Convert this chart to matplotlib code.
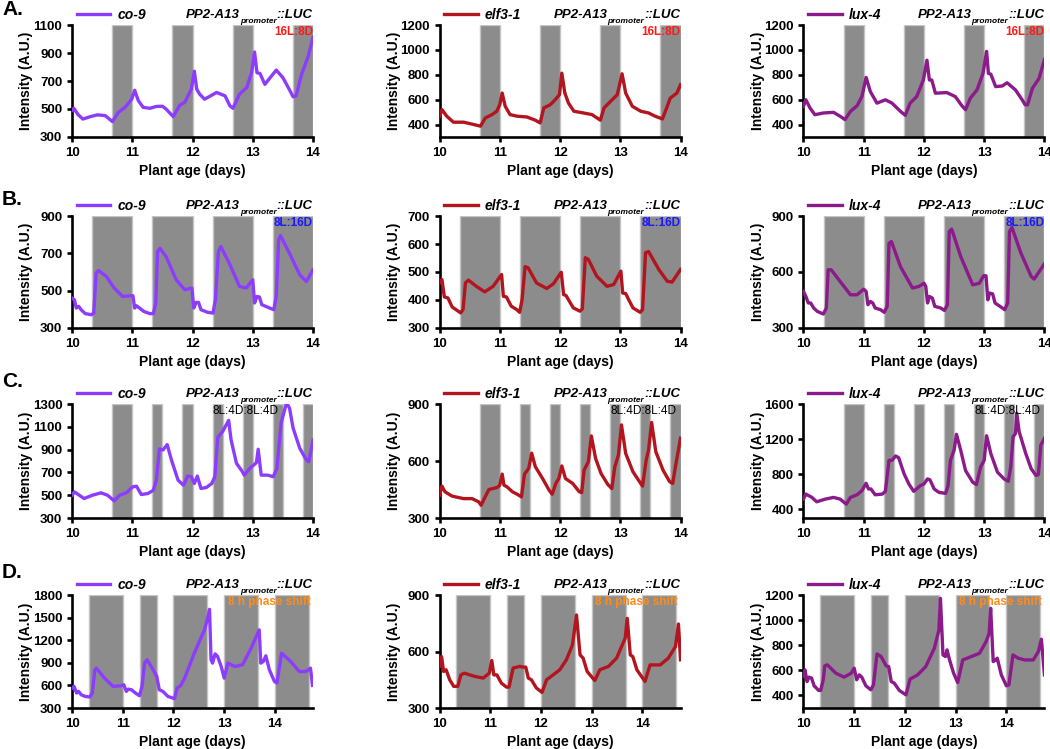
import matplotlib
matplotlib.use("Agg")
import matplotlib.pyplot as plt

plt.rcParams["font.family"] = ["Liberation Sans", "DejaVu Sans"]
plt.rcParams["font.weight"] = "bold"
plt.rcParams["axes.labelweight"] = "bold"

CO9_COLOR = "#8c3cff"
ELF3_COLOR = "#b3151e"
LUX4_COLOR = "#8b1a8b"

# ---- dark periods (days) ----
A_dark = [(10.667, 11), (11.667, 12), (12.667, 13), (13.667, 14)]
B_dark = [(10.333, 11), (11.333, 12), (12.333, 13), (13.333, 14)]
C_dark = [(10.667, 11), (11.333, 11.5), (11.833, 12), (12.333, 12.5),
          (12.833, 13), (13.333, 13.5), (13.833, 14)]
D_dark = [(10.333, 11), (11.333, 11.667), (12.0, 12.667), (13.0, 13.667), (14.0, 14.667)]

# ---- A: 16L:8D ----
A_co9_t = [10.0, 10.03, 10.1, 10.18, 10.3, 10.42, 10.55, 10.67, 10.77, 10.88, 10.99, 11.04,
           11.1, 11.18, 11.29, 11.4, 11.5, 11.56, 11.68, 11.79, 11.87, 11.98, 12.03, 12.07,
           12.12, 12.2, 12.4, 12.54, 12.62, 12.67, 12.78, 12.9, 12.98, 13.03, 13.07, 13.12,
           13.2, 13.39, 13.5, 13.59, 13.67, 13.72, 13.81, 13.92, 14.0]
A_co9_y = [490, 505, 460, 428, 445, 458, 453, 410, 476, 512, 570, 634,
           560, 512, 505, 518, 520, 500, 446, 528, 547, 641, 770, 641,
           605, 570, 618, 594, 523, 505, 606, 653, 759, 907, 759, 754,
           676, 778, 724, 653, 587, 594, 747, 876, 1013]

A_elf3_t = [10.0, 10.04, 10.12, 10.23, 10.4, 10.57, 10.68, 10.76, 10.87, 10.95, 11.0, 11.04,
            11.09, 11.17, 11.29, 11.45, 11.59, 11.67, 11.73, 11.84, 11.92, 11.99, 12.03, 12.08,
            12.14, 12.23, 12.39, 12.53, 12.67, 12.73, 12.84, 12.95, 13.03, 13.09, 13.2, 13.34,
            13.47, 13.58, 13.7, 13.78, 13.83, 13.94, 14.0]
A_elf3_y = [467, 520, 467, 419, 419, 400, 387, 453, 480, 507, 560, 653,
            547, 480, 467, 461, 435, 413, 533, 560, 600, 640, 813, 653,
            573, 507, 493, 480, 435, 533, 587, 640, 808, 653, 547, 507,
            493, 467, 445, 547, 613, 653, 720]

A_lux4_t = [10.0, 10.04, 10.11, 10.19, 10.33, 10.5, 10.61, 10.69, 10.78, 10.89, 10.97, 11.04,
            11.11, 11.22, 11.36, 11.47, 11.61, 11.69, 11.77, 11.88, 11.99, 12.05, 12.09, 12.13,
            12.19, 12.38, 12.52, 12.63, 12.69, 12.77, 12.88, 12.98, 13.04, 13.07, 13.11, 13.19,
            13.3, 13.38, 13.52, 13.63, 13.68, 13.72, 13.8, 13.91, 14.0]
A_lux4_y = [546, 599, 532, 479, 493, 498, 466, 440, 506, 551, 625, 779,
            665, 572, 599, 572, 506, 474, 572, 625, 758, 917, 758, 758,
            652, 657, 625, 551, 519, 612, 678, 811, 988, 811, 805, 705,
            710, 736, 678, 599, 559, 559, 691, 771, 922]

# ---- B: 8L:16D ----
B_co9_t = [10.0, 10.04, 10.07, 10.11, 10.15, 10.22, 10.32, 10.36, 10.4, 10.44, 10.57, 10.7,
           10.84, 11.01, 11.04, 11.07, 11.12, 11.19, 11.29, 11.35, 11.39, 11.42, 11.46, 11.56,
           11.73, 11.87, 11.99, 12.02, 12.06, 12.1, 12.14, 12.25, 12.34, 12.38, 12.43, 12.47,
           12.61, 12.78, 12.89, 13.0, 13.03, 13.07, 13.11, 13.15, 13.28, 13.35, 13.39, 13.43,
           13.46, 13.61, 13.78, 13.89, 14.0]
B_co9_y = [460, 451, 407, 416, 398, 377, 371, 380, 594, 608, 576, 514,
           469, 473, 407, 419, 407, 389, 377, 377, 434, 709, 727, 683,
           558, 505, 514, 407, 437, 437, 398, 384, 380, 451, 709, 736,
           647, 523, 514, 558, 434, 469, 466, 425, 407, 398, 469, 772,
           795, 700, 585, 549, 612]

B_elf3_t = [10.0, 10.04, 10.08, 10.14, 10.21, 10.31, 10.35, 10.39, 10.43, 10.48, 10.61, 10.75,
            10.89, 11.03, 11.06, 11.11, 11.19, 11.28, 11.33, 11.37, 11.42, 11.47, 11.61, 11.78,
            11.89, 12.02, 12.06, 12.1, 12.14, 12.22, 12.33, 12.37, 12.42, 12.47, 12.61, 12.78,
            12.89, 13.01, 13.04, 13.09, 13.14, 13.21, 13.33, 13.37, 13.42, 13.47, 13.64, 13.78,
            13.86, 14.0]
B_elf3_y = [461, 473, 411, 407, 375, 360, 354, 366, 461, 471, 449, 429,
            449, 491, 413, 411, 378, 366, 356, 401, 519, 515, 461, 441,
            458, 499, 419, 416, 401, 372, 360, 368, 551, 545, 485, 449,
            455, 503, 425, 423, 401, 372, 356, 366, 569, 573, 509, 467,
            464, 509]

B_lux4_t = [10.0, 10.04, 10.08, 10.12, 10.17, 10.23, 10.33, 10.38, 10.41, 10.46, 10.61, 10.78,
            10.89, 11.0, 11.04, 11.07, 11.11, 11.15, 11.19, 11.28, 11.34, 11.39, 11.42, 11.46,
            11.61, 11.81, 11.92, 12.0, 12.03, 12.06, 12.09, 12.14, 12.18, 12.28, 12.34, 12.39,
            12.42, 12.46, 12.61, 12.81, 12.92, 12.99, 13.03, 13.06, 13.09, 13.14, 13.18, 13.28,
            13.34, 13.39, 13.42, 13.46, 13.61, 13.78, 13.83, 14.0]
B_lux4_y = [496, 469, 434, 434, 407, 389, 375, 407, 612, 612, 549, 478,
            478, 508, 496, 425, 442, 434, 407, 398, 384, 416, 754, 763,
            629, 514, 523, 540, 523, 434, 469, 460, 416, 407, 394, 425,
            816, 830, 683, 531, 540, 580, 580, 451, 487, 483, 434, 412,
            398, 434, 816, 839, 701, 576, 562, 644]

# ---- C: 8L:4D:8L:4D ----
C_co9_t = [10.0, 10.04, 10.12, 10.2, 10.34, 10.48, 10.59, 10.7, 10.79, 10.9, 11.01, 11.07,
           11.15, 11.26, 11.35, 11.4, 11.45, 11.51, 11.58, 11.65, 11.76, 11.85, 11.92, 11.98,
           12.03, 12.08, 12.14, 12.23, 12.32, 12.37, 12.42, 12.5, 12.6, 12.64, 12.73, 12.81,
           12.86, 12.95, 13.06, 13.09, 13.14, 13.25, 13.34, 13.4, 13.47, 13.53, 13.56, 13.61,
           13.67, 13.78, 13.89, 13.93, 14.0]
C_co9_y = [500, 529, 500, 471, 500, 521, 500, 450, 500, 521, 574, 579,
           506, 515, 544, 632, 906, 897, 944, 809, 632, 588, 668, 662,
           603, 668, 559, 568, 603, 662, 1009, 1059, 1156, 985, 779, 721,
           676, 735, 785, 903, 676, 676, 662, 735, 1132, 1250, 1309, 1265,
           1088, 912, 809, 794, 985]

C_elf3_t = [10.0, 10.04, 10.09, 10.21, 10.4, 10.54, 10.65, 10.69, 10.73, 10.82, 10.96, 11.0,
            11.04, 11.07, 11.12, 11.21, 11.29, 11.36, 11.41, 11.48, 11.53, 11.59, 11.71, 11.82,
            11.87, 11.93, 11.98, 12.03, 12.09, 12.21, 12.32, 12.36, 12.4, 12.47, 12.52, 12.59,
            12.68, 12.79, 12.86, 12.91, 12.97, 13.02, 13.09, 13.21, 13.32, 13.37, 13.43, 13.47,
            13.52, 13.59, 13.71, 13.82, 13.87, 13.93, 14.0]
C_elf3_y = [420, 468, 438, 415, 402, 402, 385, 367, 394, 450, 461, 473,
            531, 473, 464, 438, 425, 411, 531, 561, 641, 570, 508, 446,
            425, 482, 508, 574, 508, 482, 438, 434, 552, 596, 732, 614,
            535, 478, 455, 570, 632, 790, 640, 544, 491, 468, 605, 658,
            803, 649, 552, 491, 482, 596, 720]

C_lux4_t = [10.0, 10.04, 10.14, 10.22, 10.36, 10.5, 10.61, 10.71, 10.78, 10.89, 10.97, 11.04,
            11.08, 11.12, 11.19, 11.31, 11.36, 11.42, 11.47, 11.53, 11.58, 11.67, 11.75, 11.83,
            11.94, 12.0, 12.06, 12.1, 12.17, 12.25, 12.36, 12.4, 12.44, 12.5, 12.54, 12.61,
            12.69, 12.81, 12.87, 12.94, 13.0, 13.04, 13.11, 13.22, 13.33, 13.4, 13.44, 13.48,
            13.52, 13.54, 13.58, 13.69, 13.78, 13.86, 13.9, 13.94, 14.0]
C_lux4_y = [515, 573, 535, 485, 515, 535, 515, 458, 535, 565, 612, 696,
            631, 631, 565, 573, 604, 958, 958, 1008, 988, 804, 688, 604,
            669, 688, 746, 735, 631, 592, 581, 669, 958, 1073, 1254, 1073,
            842, 708, 681, 881, 958, 1238, 1035, 823, 746, 719, 881, 1227,
            1265, 1496, 1285, 1035, 862, 785, 796, 1131, 1208]

# ---- D: 8 h phase shift ----
D_co9_t = [10.0, 10.04, 10.09, 10.13, 10.18, 10.26, 10.35, 10.4, 10.45, 10.48, 10.64, 10.81,
           10.97, 11.02, 11.07, 11.11, 11.17, 11.25, 11.33, 11.38, 11.43, 11.48, 11.6, 11.67,
           11.72, 11.79, 11.89, 12.02, 12.07, 12.14, 12.22, 12.41, 12.61, 12.69, 12.71, 12.74,
           12.77, 12.82, 12.87, 12.94, 13.0, 13.07, 13.21, 13.36, 13.53, 13.69, 13.72, 13.77,
           13.82, 13.89, 13.99, 14.04, 14.13, 14.31, 14.48, 14.61, 14.7, 14.74]
D_co9_y = [565, 587, 499, 521, 476, 454, 446, 499, 807, 829, 697, 587,
           596, 609, 521, 551, 543, 499, 463, 587, 896, 940, 807, 719,
           543, 521, 454, 424, 565, 596, 697, 1028, 1337, 1535, 1610, 940,
           896, 1019, 984, 851, 697, 896, 851, 873, 1094, 1337, 896, 918,
           993, 807, 653, 631, 1028, 918, 785, 785, 829, 600]

D_elf3_t = [10.0, 10.04, 10.08, 10.13, 10.2, 10.28, 10.36, 10.42, 10.49, 10.69, 10.86, 10.98,
            11.03, 11.07, 11.13, 11.22, 11.32, 11.37, 11.45, 11.58, 11.65, 11.7, 11.75, 11.81,
            11.91, 12.02, 12.11, 12.24, 12.37, 12.5, 12.62, 12.7, 12.77, 12.83, 12.91, 13.06,
            13.16, 13.33, 13.49, 13.66, 13.7, 13.76, 13.81, 13.89, 14.05, 14.15, 14.35, 14.51,
            14.65, 14.71, 14.75]
D_elf3_y = [521, 573, 494, 503, 450, 415, 415, 476, 485, 468, 459, 485,
            552, 476, 476, 432, 411, 411, 512, 521, 517, 517, 459, 450,
            406, 383, 450, 476, 503, 556, 635, 794, 582, 565, 494, 446,
            503, 521, 565, 671, 776, 582, 573, 503, 441, 529, 529, 565,
            626, 746, 556]

D_lux4_t = [10.0, 10.03, 10.07, 10.11, 10.16, 10.21, 10.3, 10.34, 10.39, 10.42, 10.47, 10.64,
            10.8, 10.94, 11.0, 11.05, 11.1, 11.15, 11.23, 11.33, 11.38, 11.45, 11.53, 11.63,
            11.68, 11.73, 11.79, 11.89, 12.02, 12.1, 12.25, 12.41, 12.58, 12.67, 12.7, 12.75,
            12.8, 12.83, 12.88, 12.96, 13.04, 13.14, 13.31, 13.47, 13.6, 13.66, 13.69, 13.74,
            13.79, 13.82, 13.9, 14.0, 14.05, 14.13, 14.23, 14.36, 14.53, 14.63, 14.69, 14.75]
D_lux4_y = [551, 604, 511, 546, 538, 477, 440, 440, 525, 636, 644, 577,
            546, 577, 617, 525, 564, 546, 477, 445, 485, 731, 710, 636,
            630, 511, 498, 440, 405, 530, 564, 630, 776, 922, 1173, 723,
            710, 763, 683, 577, 503, 683, 710, 736, 829, 895, 1094, 670,
            683, 697, 564, 477, 485, 723, 697, 683, 683, 750, 848, 564]

GENOTYPES = [("co-9", CO9_COLOR), ("elf3-1", ELF3_COLOR), ("lux-4", LUX4_COLOR)]

rows = [
    dict(letter="A.", dark=A_dark, xmax=14, cond="16L:8D", cond_color="#ff1a1a", cond_weight="bold",
         series=[(A_co9_t, A_co9_y), (A_elf3_t, A_elf3_y), (A_lux4_t, A_lux4_y)],
         ylims=[(300, 1100), (300, 1200), (300, 1200)],
         yticks=[range(300, 1101, 200), range(400, 1201, 200), range(400, 1201, 200)]),
    dict(letter="B.", dark=B_dark, xmax=14, cond="8L:16D", cond_color="#1a1aff", cond_weight="bold",
         series=[(B_co9_t, B_co9_y), (B_elf3_t, B_elf3_y), (B_lux4_t, B_lux4_y)],
         ylims=[(300, 900), (300, 700), (300, 900)],
         yticks=[range(300, 901, 200), range(300, 701, 100), range(300, 901, 300)]),
    dict(letter="C.", dark=C_dark, xmax=14, cond="8L:4D:8L:4D", cond_color="black", cond_weight="normal",
         series=[(C_co9_t, C_co9_y), (C_elf3_t, C_elf3_y), (C_lux4_t, C_lux4_y)],
         ylims=[(300, 1300), (300, 900), (300, 1600)],
         yticks=[range(300, 1301, 200), range(300, 901, 300), range(400, 1601, 400)]),
    dict(letter="D.", dark=D_dark, xmax=14.75, cond="8 h phase shift", cond_color="#ff8c1a", cond_weight="bold",
         series=[(D_co9_t, D_co9_y), (D_elf3_t, D_elf3_y), (D_lux4_t, D_lux4_y)],
         ylims=[(300, 1800), (300, 900), (300, 1200)],
         yticks=[range(300, 1801, 300), range(300, 901, 300), range(400, 1201, 200)]),
]

# layout in figure fractions (figure 1050 x 749 px)
col_left = [0.0686, 0.4186, 0.7652]
ax_w = 0.2295
row_box = [(0.8171, 0.1495), (0.5621, 0.1495), (0.3084, 0.1522), (0.0547, 0.1509)]
letter_y = [0.987, 0.734, 0.490, 0.235]
cond_x_C = [0.72, 0.845, 0.845]


def gene_title(ax):
    kw = dict(fontweight="bold", style="italic", color="black")
    t3 = ax.text(1.0, 1.06, "::LUC", transform=ax.transAxes, ha="right", va="baseline",
                 fontsize=9.5, **kw)
    t2 = ax.annotate("promoter", xy=(0, 0.0), xycoords=t3, ha="right", va="center",
                     fontsize=6, **kw)
    ax.annotate("PP2-A13", xy=(0, 0), xycoords=(t2, t3), ha="right", va="bottom",
                fontsize=9.5, **kw)


fig = plt.figure(figsize=(10.5, 7.49), dpi=100)

for r, row in enumerate(rows):
    bottom, height = row_box[r]
    fig.text(0.002, letter_y[r], row["letter"], fontsize=15, fontweight="bold", va="center")
    for c, (name, color) in enumerate(GENOTYPES):
        ax = fig.add_axes([col_left[c], bottom, ax_w, height])
        t, y = row["series"][c]
        for s, e in row["dark"]:
            ax.axvspan(s, e, facecolor="#8c8c8c", edgecolor="#c4c4c4", lw=1, zorder=0)
        ax.plot(t, y, color=color, lw=2.4, label=name, zorder=3, solid_joinstyle="round")

        ax.set_xlim(10, row["xmax"])
        ax.set_ylim(*row["ylims"][c])
        ax.set_xticks([10, 11, 12, 13, 14])
        ax.set_yticks(list(row["yticks"][c]))
        for side in ("top", "right"):
            ax.spines[side].set_visible(False)
        for side in ("left", "bottom"):
            ax.spines[side].set_linewidth(1.9)
        ax.tick_params(width=1.9, length=3.5, labelsize=9.5)
        for lab in ax.get_xticklabels() + ax.get_yticklabels():
            lab.set_fontweight("bold")
        ax.set_xlabel("Plant age (days)", fontsize=10)
        ax.set_ylabel("Intensity (A.U.)", fontsize=10)
        ax.yaxis.set_label_coords(-0.16, 0.5)

        ax.legend(loc="center left", bbox_to_anchor=(0.02, 1.09), frameon=False,
                  borderpad=0, borderaxespad=0, handlelength=2.4, handletextpad=0.5,
                  prop=dict(style="italic", weight="bold", size=10))
        gene_title(ax)

        if row["letter"] == "C.":
            ax.text(cond_x_C[c], 0.94, row["cond"], transform=ax.transAxes, ha="center", va="center",
                    fontsize=8.5, color=row["cond_color"], fontweight=row["cond_weight"])
        else:
            xr = 0.99 if row["xmax"] > 14 else 1.0
            ax.text(xr, 0.94, row["cond"], transform=ax.transAxes, ha="right", va="center",
                    fontsize=8.5, color=row["cond_color"], fontweight=row["cond_weight"])

fig.savefig("out.png", dpi=100)
